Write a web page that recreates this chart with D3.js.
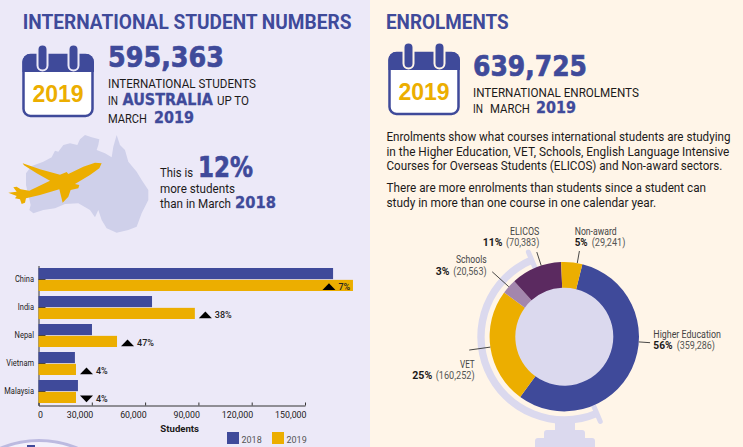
<!DOCTYPE html>
<html>
<head>
<meta charset="utf-8">
<script src="https://cdn.jsdelivr.net/npm/d3@7"></script>
<style>
    html, body { margin: 0; padding: 0; background: #fff5e8; overflow: hidden; }
    svg { display: block; }
    text { font-family: Roboto, "Liberation Sans", sans-serif; }
</style>
</head>
<body>
<div id="chart"></div>
<script>
const countries = ["China", "India", "Nepal", "Vietnam", "Malaysia"];
const students2018 = [165800, 63900, 30100, 20500, 22200];
const students2019 = [177000, 88000, 44200, 21100, 21100];
const changeLabels = ["7%", "38%", "47%", "4%", "4%"];
const changeUp = [true, true, true, true, false];
const years = ["2018", "2019"];
const xTicks = [0, 30000, 60000, 90000, 120000, 150000];

const sectors = ["Higher Education", "VET", "Schools", "ELICOS", "Non-award"];
const enrolments = [359286, 160252, 20563, 70383, 29241];
const shares = ["56%", "25%", "3%", "11%", "5%"];

const blue = "#3f4a9a",
    gold = "#ecae00",
    ink = "#1c1a1a",
    lilac = "#dbd9ee";
const sectorColors = [blue, gold, "#a386ad", "#5b2a60", gold];

const width = 743,
    height = 447;

const svg = d3.select("#chart")
    .append("svg")
    .attr("width", width)
    .attr("height", height);

svg.append("rect").attr("width", 370).attr("height", height).style("fill", "#ece9f8");
svg.append("rect").attr("x", 370).attr("width", 373).attr("height", height).style("fill", "#fff5e8");

// the source font is condensed, so squeeze each text to the width it has there
function label(x, y, str, size, fit, opts) {
    opts = opts || {};
    let t = svg.append("text")
        .text(str)
        .style("font-size", size + "px")
        .style("font-weight", opts.bold ? 700 : 400)
        .style("fill", opts.color || ink)
        .style("text-anchor", opts.anchor || "start");
    if (opts.wide) {
        t.style("font-family", '"DejaVu Sans", sans-serif')
            .style("stroke", opts.color)
            .style("stroke-width", size > 20 ? 0.7 : 0.3);
    }
    let sx = fit ? fit / t.node().getComputedTextLength() : 1;
    t.attr("transform", "translate(" + x + "," + y + ") scale(" + sx + ",1)");
    return t;
}

function calendar(dx, dy) {
    let g = svg.append("g").attr("transform", "translate(" + dx + "," + dy + ")");
    g.append("rect").attr("x", 23.5).attr("y", 55).attr("width", 69).attr("height", 61).attr("rx", 7)
        .style("fill", "white").style("stroke", blue).style("stroke-width", 2.5);
    g.append("path").attr("d", "M22.5,72V62a8,8 0 0 1 8,-8H86a8,8 0 0 1 8,8V72Z").style("fill", blue);
    [42.5, 73.5].forEach(function (cx) {
        g.append("rect").attr("x", cx - 5).attr("y", 44.5).attr("width", 10).attr("height", 26).attr("rx", 5)
            .style("fill", blue).style("stroke", dx ? "#fff5e8" : "#ece9f8").style("stroke-width", 2);
    });
    g.append("text").attr("x", 58).attr("y", 101.7).text("2019")
        .style("font-family", '"Liberation Sans", sans-serif')
        .style("font-size", "23px").style("font-weight", 700)
        .style("text-anchor", "middle").style("fill", gold);
}

// left panel header
label(22.7, 28.5, "INTERNATIONAL STUDENT NUMBERS", 20.5, 329, { bold: true, color: blue });
calendar(0, 0);
label(108, 66.7, "595,363", 28.5, 116, { bold: true, color: blue, wide: true });
label(108, 87.7, "INTERNATIONAL STUDENTS", 13.4, 148);
label(108, 104.7, "IN", 13.4, 10);
label(122.5, 104.7, "AUSTRALIA", 15.5, 90.5, { bold: true, color: blue, wide: true });
label(217, 104.7, "UP TO", 13.4, 32);
label(108, 122.7, "MARCH", 13.4, 39);
label(154, 122.7, "2019", 15.2, 40, { bold: true, color: blue, wide: true });

// Australia and the plane, traced at 3x from the source
let shapes = svg.append("g").attr("transform", "translate(0,130) scale(0.3333)");
shapes.append("path")
    .attr("d", "M88,240L92,225L85,195L78,165L78,130L95,108L130,95L155,82L165,62L175,65L190,45L210,40L232,45L240,28L255,15L275,22L298,28L295,45L290,60L315,70L335,82L340,50L350,15L360,45L375,60L385,95L410,125L425,150L445,180L445,210L425,250L410,290L385,300L350,308L320,295L305,270L295,240L285,262L270,240L235,220L195,222L165,235L130,240L100,250Z")
    .style("fill", "#cfd0ea");
shapes.append("path")
    .attr("d", "M305,100L285,98L250,110L205,132L200,126L180,134L120,118L68,100L72,106L110,130L150,152L88,182L62,178L50,170L40,172L50,185L25,188L50,198L45,205L60,208L65,222L75,218L78,205L120,195L178,178L188,218L205,200L212,180L235,175L238,165L225,162L215,168L270,135L298,115Z")
    .style("fill", gold);

label(160, 176.7, "This is", 13.4, 33);
label(198, 176.7, "12%", 28.5, 55, { bold: true, color: blue, wide: true });
label(160, 192.7, "more students", 13.4, 75);
label(160, 208.3, "than in March", 13.4, 71);
label(235, 208.3, "2018", 15.8, 41, { bold: true, color: blue, wide: true });

// bars
let x = d3.scaleLinear()
    .domain([0, 150000])
    .range([38.5, 305]);

let y = d3.scaleBand()
    .domain(countries)
    .range([265.5, 405.5])
    .paddingInner(5 / 28)
    .paddingOuter(2.5 / 28);

let yInner = d3.scaleBand()
    .domain(years)
    .range([0, y.bandwidth()])
    .paddingInner(0.06);

let x_axis = d3.axisBottom(x)
    .tickValues(xTicks)
    .tickFormat(d3.format(","))
    .tickSizeInner(-3)
    .tickSizeOuter(0);

let y_axis = d3.axisLeft(y)
    .tickSizeInner(-7)
    .tickSizeOuter(0);

let gx = svg.append("g")
    .attr("class", "xaxis")
    .attr("transform", "translate(0,405.5)")
    .call(x_axis);

gx.selectAll(".tick text")
    .attr("y", 6)
    .attr("dy", "0.71em")
    .attr("dx", function (d) { return d === 0 ? 1.5 : 1; })
    .style("text-anchor", function (d) { return d === 0 ? "middle" : "end"; });

let gy = svg.append("g")
    .attr("class", "yaxis")
    .attr("transform", "translate(38.5,0)")
    .call(y_axis);

gy.selectAll(".tick text")
    .attr("x", 0)
    .attr("dy", "0.32em")
    .attr("transform", "translate(-4.5,0) scale(0.85,1)");

svg.selectAll(".xaxis text, .yaxis text")
    .style("font-family", "Roboto, sans-serif")
    .style("font-size", "8.8px")
    .style("fill", ink);
svg.selectAll(".xaxis path, .xaxis line, .yaxis path, .yaxis line")
    .style("stroke", "#333")
    .style("stroke-width", 1);

let seriesValues = [students2018, students2019];

years.forEach(function (year, s) {
    svg.selectAll(".bar" + year)
        .data(countries)
        .enter()
        .append("rect")
        .attr("class", "bar" + year)
        .attr("x", x(0))
        .attr("y", function (d) { return y(d) + yInner(year); })
        .attr("width", function (d, i) { return x(seriesValues[s][i]) - x(0); })
        .attr("height", yInner.bandwidth())
        .style("fill", s === 0 ? blue : gold);
});

// change markers sit just past the 2019 bar, China's does not fit so it goes inside
countries.forEach(function (d, i) {
    let end = x(students2019[i]),
        left = i === 0 ? end - 30.5 : end + 4,
        base = y(d) + y.bandwidth() - (i === 0 ? 1 : 0.7),
        tw = 13,
        th = 6.8,
        tri;
    if (changeUp[i]) {
        tri = "M" + left + "," + base + "h" + tw + "l" + (-tw / 2) + "," + (-th) + "Z";
    } else {
        tri = "M" + left + "," + (base - th) + "h" + tw + "l" + (-tw / 2) + "," + th + "Z";
    }
    svg.append("path").attr("d", tri).style("fill", "black");
    svg.append("text")
        .attr("x", left + tw + 3)
        .attr("y", base)
        .text(changeLabels[i])
        .style("font-size", "9px")
        .style("font-weight", 500)
        .style("fill", "#222");
});

label(179.7, 431.7, "Students", 9.6, null, { bold: true, anchor: "middle" });

[227, 272].forEach(function (lx, i) {
    svg.append("rect").attr("x", lx).attr("y", 432).attr("width", 12).attr("height", 12)
        .style("fill", i === 0 ? blue : gold);
    svg.append("text").attr("x", lx + 14.5).attr("y", 443).text(years[i])
        .style("font-size", "9px")
        .style("fill", "#555");
});

// bit of the next globe peeking in at the bottom
svg.append("circle").attr("cx", 39).attr("cy", 539.5).attr("r", 99)
    .style("fill", "#f3f1fb").style("stroke", "#bcbae0").style("stroke-width", 3);
svg.append("rect").attr("x", 27).attr("y", 445).attr("width", 8).attr("height", 2).style("fill", blue);

// right panel header
label(386, 29.3, "ENROLMENTS", 20.5, 122.7, { bold: true, color: blue });
calendar(366, -2);
label(473, 76, "639,725", 28.5, 114, { bold: true, color: blue, wide: true });
label(473, 96.7, "INTERNATIONAL ENROLMENTS", 13.4, 166);
label(473, 113.3, "IN", 13.4, 10);
label(490, 113.3, "MARCH", 13.4, 40);
label(536, 113.3, "2019", 15.2, 40, { bold: true, color: blue, wide: true });

label(386.5, 141, "Enrolments show what courses international students are studying", 12.6, 344);
label(386.5, 155.5, "in the Higher Education, VET, Schools, English Language Intensive", 12.6, 343);
label(386.5, 170, "Courses for Overseas Students (ELICOS) and Non-award sectors.", 12.6, 336);
label(386.5, 191.7, "There are more enrolments than students since a student can", 12.6, 320);
label(386.5, 206.7, "study in more than one course in one calendar year.", 12.6, 269.5);

// globe + doughnut
let cx = 564.3,
    cy = 336.7,
    rad = Math.PI / 180;

let stand = svg.append("g").style("fill", lilac);
stand.append("rect").attr("x", 555).attr("y", 421).attr("width", 20).attr("height", 14);
stand.append("rect").attr("x", 544).attr("y", 430).attr("width", 41).attr("height", 14).attr("rx", 3);
stand.append("rect").attr("x", 535).attr("y", 438).attr("width", 60).attr("height", 12).attr("rx", 3);

let globe = svg.append("g").attr("transform", "translate(" + cx + "," + cy + ")");

globe.append("path")
    .attr("d", d3.arc()
        .innerRadius(79.5)
        .outerRadius(87)
        .startAngle(-23 * rad)
        .endAngle(-203 * rad)())
    .style("fill", lilac);

[-23, 157].forEach(function (deg) {
    let a = d3.pointRadial(deg * rad, 75),
        b = d3.pointRadial(deg * rad, 92);
    globe.append("line")
        .attr("x1", a[0]).attr("y1", a[1])
        .attr("x2", b[0]).attr("y2", b[1])
        .style("stroke", lilac)
        .style("stroke-width", 5)
        .style("stroke-linecap", "round");
});

globe.append("circle").attr("r", 50).style("fill", lilac);

let pie = d3.pie()
    .sort(null)
    .startAngle(14 * rad)
    .endAngle(374 * rad);

let arc = d3.arc()
    .innerRadius(49)
    .outerRadius(74.7);

globe.selectAll(".slice")
    .data(pie(enrolments))
    .enter()
    .append("path")
    .attr("class", "slice")
    .attr("d", arc)
    .style("fill", function (d, i) { return sectorColors[i]; });

// leaders: angle on the ring and how far they run out
let leaders = [[94, 74.7, 86], [262, 74.7, 96], [312, 74.7, 97], [342, 74.7, 89], [10, 74.7, 87]];
leaders.forEach(function (l) {
    let a = d3.pointRadial(l[0] * rad, l[1]),
        b = d3.pointRadial(l[0] * rad, l[2]);
    globe.append("line")
        .attr("x1", a[0]).attr("y1", a[1])
        .attr("x2", b[0]).attr("y2", b[1])
        .style("stroke", "#333")
        .style("stroke-width", 0.9);
});

function sectorLabel(i, nameX, nameY, nameW, pctX, pctW, amtX, amtW) {
    let amount = "(" + d3.format(",")(enrolments[i]) + ")";
    label(nameX, nameY, sectors[i], 11, nameW, { color: "#444" });
    label(pctX, nameY + 11.3, shares[i], 11.5, pctW, { bold: true });
    label(amtX, nameY + 11.3, amount, 11, amtW, { color: "#555" });
}

sectorLabel(0, 653.3, 337.7, 67.7, 653.3, 19.3, 676.7, 38.3);
sectorLabel(1, 460, 367.7, 14.7, 412.3, 20, 435.7, 39);
sectorLabel(2, 456, 263.3, 30.7, 435.7, 13.7, 453.3, 33.3);
sectorLabel(3, 510, 235, 29.3, 482.7, 19.7, 506, 33.3);
sectorLabel(4, 574.7, 235, 42, 574.7, 13, 591.7, 33.7);
</script>
</body>
</html>
